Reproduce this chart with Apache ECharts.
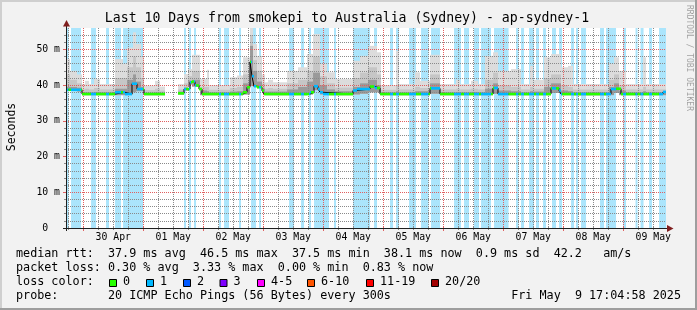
<!DOCTYPE html>
<html><head><meta charset="utf-8">
<script src="https://cdn.jsdelivr.net/npm/echarts@6/dist/echarts.min.js"></script>
<style>html,body{margin:0;padding:0;background:#f2f2f2}#c{width:697px;height:310px}</style>
</head><body><div id="c"></div>
<script>
// ---------- data (time unit: hours since 29 Apr 2025 00:00) ----------
const startHour = 17.083;   // Tue Apr 29 17:04:58
const endHour = 257.083;    // Fri May  9 17:04:58
const dayLabels = ['30 Apr','01 May','02 May','03 May','04 May','05 May','06 May','07 May','08 May','09 May'];
const dayLabelHours = [36,60,84,108,132,156,180,204,228,252];
const midnightHours = [24,48,72,96,120,144,168,192,216,240];
const sixHourHours = [18,30,36,42,54,60,66,78,84,90,102,108,114,126,132,138,150,156,162,174,180,186,198,204,210,222,228,234,246,252];
const yMajor = [0,10,20,30,40,50];
const yMinor = [2,4,6,8,12,14,16,18,22,24,26,28,32,34,36,38,42,44,46,48,52,54];

// intervals with 1/20 packet loss (loss background)
const lossIntervals = [
 [17.1,18.1],[19.1,23.1],[27.1,29.1],[33.1,34.3],[36.7,39.1],[39.9,47.9],
 [64.3,65.1],[66.3,67.1],[68.3,69.1],[78.3,79.1],[80.3,82.3],[86.3,87.1],
 [91.1,93.1],[94.3,95.1],[106.3,108.3],[111.1,112.3],[114.3,115.1],[116.3,122.3],
 [124.3,125.1],[131.9,138.7],[140.3,141.5],[146.7,147.9],[149.1,150.3],[154.3,157.1],
 [159.1,162.1],[163.1,166.7],[172.3,175.1],[176.3,178.3],[180.3,182.3],[183.1,187.1],
 [188.3,194.1],[197.1,198.1],[199.1,200.3],[202.3,204.3],[205.1,206.3],[207.9,209.1],
 [211.5,213.1],[214.3,215.5],[219.1,220.3],[221.1,221.9],[223.1,225.1],[230.7,232.3],
 [233.1,237.1],[239.9,241.1],[244.9,245.7],[246.9,248.1],[250.3,251.5],[254.3,257.1]
];

// median rtt (ms): [start hour, value held until next entry]; null = no data
const medianSteps = [
 [17.083,38.7],[23.48,37.5],[36.68,38.0],[40.68,37.5],[43.48,40.4],[45.48,38.9],[48.28,37.5],
 [56.68,null],[61.88,37.7],[64.28,38.9],[66.68,40.8],[67.48,41.0],[68.68,39.9],[70.28,38.9],
 [71.48,37.5],[87.88,38.0],[89.48,39.4],[90.68,46.5],[91.48,42.5],[92.28,39.7],[93.48,39.4],
 [95.48,38.5],[96.28,37.5],[114.68,38.0],[116.28,39.7],[117.88,38.9],[118.68,38.0],[119.88,37.5],
 [131.88,38.5],[133.48,38.9],[138.68,39.6],[140.68,39.2],[142.68,37.5],[162.68,39.1],[166.68,37.5],
 [187.88,39.2],[189.88,37.5],[211.08,39.1],[214.28,38.5],[215.08,37.5],[235.08,38.9],[237.08,39.0],
 [239.08,37.5],[255.88,38.1]
];

// smoke: [from, to, lowest ping, light top, mid top, dark top] (ms)
const smokeBands = [
 [17.1,18.7,38.4,47.3,43,39.5],[18.7,21.5,38.4,44,41.5,39.5],[21.5,23.5,38.2,43,40.5,39.3],
 [23.5,24.7,37.2,40.3,38.8,38],[24.7,26.3,37.2,41.2,39,38],[26.3,28.3,37.2,40.3,38.8,38],
 [28.3,30.7,37.2,41.7,39.2,38.1],[30.7,36.7,37.2,40.3,38.8,38],[36.7,39.9,37.2,47.3,42,39],
 [39.9,41.5,37.2,46,42,39],[41.5,43.9,37.4,50.5,45,41.5],[43.9,45.1,38,54.8,48,43],
 [45.1,47.1,38.3,51.5,45,41],[47.1,48.3,38.3,48,42,39.5],[48.3,52.7,37.2,39.9,38.6,37.9],
 [52.7,54.7,37.2,41.2,39,38],[54.7,56.7,37.2,39.6,38.5,37.9],
 [61.9,64.3,37.4,40.3,38.8,38.2],[64.3,65.9,38.5,43.1,40.5,39.3],[65.9,67.5,40.2,44.5,42.5,41.3],
 [67.5,70.7,39.6,48.5,44,41.5],[70.7,73.5,37.2,41.7,39.5,38.5],[73.5,74.3,37.2,44.3,39.5,38.3],
 [74.3,82.7,37.2,40,38.7,38],[82.7,85.5,37.2,42.2,39.2,38.2],[85.5,87.9,37.2,42.7,39.5,38.3],
 [87.9,90.7,37.4,47.8,43,40.5],[90.7,91.9,39.8,56,54,51],[91.9,93.5,39.5,51.5,47,44],
 [93.5,95.5,39.2,48.2,44,41],[95.5,96.7,37.8,43,40.5,39],[96.7,97.9,37.2,40.8,39,38.2],
 [97.9,99.9,37.2,41.5,39.2,38.2],[99.9,105.5,37.2,40.8,39,38.2],[105.5,109.9,37.2,44,40.5,38.8],
 [109.9,113.5,37.2,45,41.5,39.5],[113.5,115.9,37.4,48.7,44,41],[115.9,118.7,38.6,54.3,48,43.5],
 [118.7,121.5,37.4,46,42.5,40],[121.5,124.7,37.2,43.6,40.5,38.8],[124.7,131.9,37.2,41.7,39.3,38.3],
 [131.9,134.7,37.4,46.8,42,39.5],[134.7,137.9,37.6,48.2,43.5,40.5],[137.9,141.5,38,51,45,41.5],
 [141.5,143.1,38,49.2,43,40],[143.1,149.1,37.2,40,38.7,38],[149.1,150.3,37.2,49.6,40,38.3],
 [150.3,156.7,37.2,40.3,38.8,38],[156.7,158.7,37.2,43.6,39.5,38.3],[158.7,162.7,37.2,41.2,39.2,38.3],
 [162.7,166.7,37.6,48.5,43,40.5],[166.7,173.1,37.2,40.3,38.8,38],[173.1,174.7,37.2,41.5,39,38.1],
 [174.7,179.1,37.2,40.3,38.8,38],[179.1,181.9,37.2,41.2,39,38.1],[181.9,184.7,37.2,40.3,38.8,38],
 [184.7,187.9,37.2,48.2,41.5,39],[187.9,189.9,37.6,49.2,43.5,40.5],[189.9,195.1,37.2,44,40,38.5],
 [195.1,199.1,37.2,44.5,39.5,38.3],[199.1,202.7,37.2,40.3,38.8,38],[202.7,203.9,37.2,45.4,39.5,38.3],
 [203.9,208.3,37.2,41.5,39,38.2],[208.3,211.1,37.2,47.8,42,39.5],[211.1,215.1,37.8,48.7,43,40.5],
 [215.1,217.9,37.2,45,40,38.5],[217.9,219.9,37.2,45.4,39.5,38.3],[219.9,234.3,37.2,40.3,38.8,38],
 [234.3,236.3,37.2,46,41.5,39.5],[236.3,238.3,37.8,47.8,43,40.5],[238.3,241.1,37.2,44,40,38.5],
 [241.1,247.9,37.2,40.3,38.8,38],[247.9,249.1,37.2,47.8,39.5,38.3],[249.1,257.1,37.2,40.3,38.8,38]
];

const lossLabels = ['0','1','2','3','4-5','6-10','11-19','20/20'];
const lossColors = ['#26ff00','#00b8ff','#0059ff','#7e00ff','#ff00ff','#ff5500','#ff0000','#a10000'];
const statLines = [
 'median rtt:  37.9 ms avg  46.5 ms max  37.5 ms min  38.1 ms now  0.9 ms sd  42.2   am/s',
 'packet loss: 0.30 % avg  3.33 % max  0.00 % min  0.83 % now',
 'loss color:',
 'probe:       20 ICMP Echo Pings (56 Bytes) every 300s'
];
const stampText = 'Fri May  9 17:04:58 2025';
const titleText = 'Last 10 Days from smokepi to Australia (Sydney) - ap-sydney-1';
const yName = 'Seconds';
const yMax = 56;

// ---------- build ----------
const medSeg = [];
for (let i = 0; i < medianSteps.length; i++) {
  const t = medianSteps[i][0], v = medianSteps[i][1];
  const t1 = i + 1 < medianSteps.length ? medianSteps[i + 1][0] : endHour;
  if (v != null) medSeg.push([t, t1, v]);
}
const medLine = [];
medSeg.forEach((s, i) => {
  if (i > 0 && medSeg[i - 1][1] !== s[0]) medLine.push([medSeg[i - 1][1], null]);
  medLine.push([s[0], s[2]]); medLine.push([s[1], s[2]]);
});

const MONO = '"DejaVu Sans Mono", monospace';
const gridColor = '#8a8a8a';
const mgridColor = '#e06060';
const smokeColors = ['#dcdcdc', '#c6c6c6', '#9a9a9a'];
const lossBg = '#abe5fc';

function renderBg(params, api) {
  const a = api.coord([api.value(0), 0]), b = api.coord([api.value(1), 0]);
  const cs = params.coordSys;
  return { type: 'rect', shape: { x: a[0], y: cs.y, width: b[0] - a[0], height: cs.height }, style: { fill: lossBg } };
}
function renderSmoke(params, api) {
  const t0 = api.value(0), t1 = api.value(1), lo = api.value(2);
  const children = [3, 4, 5].map((d, k) => {
    const p0 = api.coord([t0, api.value(d)]), p1 = api.coord([t1, lo]);
    return { type: 'rect', shape: { x: p0[0], y: p0[1], width: p1[0] - p0[0], height: p1[1] - p0[1] }, style: { fill: smokeColors[k] } };
  });
  return { type: 'group', children };
}
function makeVGrid(col, tick) {
  return function (params, api) {
    const x = Math.floor(api.coord([api.value(0), 0])[0]) + 0.5;
    const cs = params.coordSys;
    return { type: 'group', children: [
      { type: 'line', shape: { x1: x, y1: cs.y, x2: x, y2: cs.y + cs.height }, style: { stroke: col, lineWidth: 1, lineDash: [1, 1] } },
      { type: 'line', shape: { x1: x, y1: cs.y + cs.height - 1, x2: x, y2: cs.y + cs.height + tick }, style: { stroke: col, lineWidth: 1 } }
    ] };
  };
}
function renderMedian(params, api) {
  const t0 = api.value(0), t1 = api.value(1), v = api.value(2);
  const cuts = [t0, t1];
  lossIntervals.forEach(([a, b]) => { if (a > t0 && a < t1) cuts.push(a); if (b > t0 && b < t1) cuts.push(b); });
  cuts.sort((p, q) => p - q);
  const children = [];
  for (let i = 0; i < cuts.length - 1; i++) {
    const a = cuts[i], b = cuts[i + 1], m = (a + b) / 2;
    const lost = lossIntervals.some(([p, q]) => m >= p && m < q);
    const pa = api.coord([a, v]), pb = api.coord([b, v]);
    children.push({ type: 'rect', shape: { x: pa[0], y: pa[1] - 1.3, width: pb[0] - pa[0], height: 2.6 }, style: { fill: lost ? lossColors[1] : lossColors[0] } });
  }
  return { type: 'group', children };
}

const graphic = [
  { type: 'rect', shape: { x: 0, y: 0, width: 697, height: 2 }, style: { fill: '#cfcfcf' }, z: 1 },
  { type: 'rect', shape: { x: 0, y: 0, width: 2, height: 310 }, style: { fill: '#cfcfcf' }, z: 1 },
  { type: 'rect', shape: { x: 0, y: 308, width: 697, height: 2 }, style: { fill: '#9e9e9e' }, z: 1 },
  { type: 'rect', shape: { x: 695, y: 0, width: 2, height: 310 }, style: { fill: '#9e9e9e' }, z: 1 },
  { type: 'text', x: 347, y: 19, style: { text: titleText, font: '13.2px ' + MONO, fill: '#000', align: 'center', verticalAlign: 'middle' }, z: 5 },
  { type: 'text', x: 12, y: 127, rotation: Math.PI / 2, style: { text: yName, font: '11.5px ' + MONO, fill: '#000', align: 'center', verticalAlign: 'middle' }, z: 5 },
  { type: 'text', x: 689, y: 5, rotation: -Math.PI / 2, style: { text: 'RRDTOOL / TOBI OETIKER', font: '8px ' + MONO, fill: 'rgba(0,0,0,0.35)', align: 'left', verticalAlign: 'middle' }, z: 5 },
  // axis lines and arrows
  { type: 'line', shape: { x1: 63, y1: 228.5, x2: 669, y2: 228.5 }, style: { stroke: '#1f1f1f', lineWidth: 1 }, z: 20 },
  { type: 'line', shape: { x1: 66.5, y1: 231, x2: 66.5, y2: 24 }, style: { stroke: '#1f1f1f', lineWidth: 1 }, z: 20 },
  { type: 'polygon', shape: { points: [[667, 225], [673.5, 228.5], [667, 232]] }, style: { fill: '#801f1f' }, z: 21 },
  { type: 'polygon', shape: { points: [[63, 26.5], [66.5, 20], [70, 26.5]] }, style: { fill: '#801f1f' }, z: 21 }
];
const lineYs = [254, 268, 282, 296];
statLines.forEach((s, i) => graphic.push({ type: 'text', x: 16, y: lineYs[i], style: { text: s, font: '11.75px ' + MONO, fill: '#000', align: 'left', verticalAlign: 'middle' }, z: 5 }));
graphic.push({ type: 'text', x: 681, y: lineYs[3], style: { text: stampText, font: '11.75px ' + MONO, fill: '#000', align: 'right', verticalAlign: 'middle' }, z: 5 });
const boxX = [109, 146, 183, 219.5, 257, 307, 366, 431];
lossLabels.forEach((lab, i) => {
  graphic.push({ type: 'rect', shape: { x: boxX[i] + 0.5, y: 279.5, width: 7, height: 7 }, style: { fill: lossColors[i], stroke: '#000', lineWidth: 1 }, z: 5 });
  graphic.push({ type: 'text', x: boxX[i] + 14, y: lineYs[2], style: { text: lab, font: '11.75px ' + MONO, fill: '#000', align: 'left', verticalAlign: 'middle' }, z: 5 });
});

const axisFont = { fontSize: 9.8, fontFamily: MONO, color: '#000' };
const option = {
  animation: false,
  backgroundColor: '#f2f2f2',
  grid: { left: 66, right: 31, top: 28, bottom: 82, containLabel: false, show: true, backgroundColor: '#ffffff', borderWidth: 0 },
  xAxis: [
    { type: 'value', position: 'bottom', offset: 0, min: startHour, max: endHour, z: 3, axisLine: { show: false }, axisTick: { show: false }, splitLine: { show: false },
      axisLabel: Object.assign({ customValues: dayLabelHours, margin: 4, formatter: v => dayLabels[dayLabelHours.indexOf(v)] || '' }, axisFont) }
  ],
  yAxis: [
    { type: 'value', min: 0, max: yMax, position: 'left', offset: 0, z: 3, axisLine: { show: false }, axisLabel: { show: false },
      axisTick: { show: true, customValues: yMinor, length: 2, lineStyle: { color: gridColor } },
      splitLine: { show: true, lineStyle: { color: gridColor, width: 1, type: [1, 1] } } },
    { type: 'value', min: 0, max: yMax, position: 'left', offset: 0, z: 3, axisLine: { show: false },
      axisTick: { show: true, customValues: yMajor, length: 3, lineStyle: { color: mgridColor } },
      axisLabel: Object.assign({ customValues: yMajor, margin: 6, formatter: v => v === 0 ? '0  ' : v + ' m' }, axisFont),
      splitLine: { show: true, lineStyle: { color: mgridColor, width: 1, type: [1, 1] } } }
  ],
  series: [
    { type: 'custom', name: 'loss', z: 1, clip: true, renderItem: renderBg, encode: { x: [0, 1], y: 2 }, data: lossIntervals.map(d => [d[0], d[1], 0]) },
    { type: 'custom', name: 'smoke', z: 2, clip: true, renderItem: renderSmoke, encode: { x: [0, 1], y: [2, 3] }, data: smokeBands },
    { type: 'custom', name: 'grid6h', z: 3, clip: false, silent: true, renderItem: makeVGrid(gridColor, 2), encode: { x: 0, y: 1 }, data: sixHourHours.map(h => [h, 0]) },
    { type: 'custom', name: 'grid24h', z: 3, clip: false, silent: true, renderItem: makeVGrid(mgridColor, 3), encode: { x: 0, y: 1 }, data: midnightHours.map(h => [h, 0]) },
    { type: 'line', name: 'median', z: 4, symbol: 'none', connectNulls: false, lineStyle: { color: '#000', width: 1 }, data: medLine },
    { type: 'custom', name: 'medianLoss', z: 5, clip: true, renderItem: renderMedian, encode: { x: [0, 1], y: 2 }, data: medSeg }
  ],
  graphic
};
const chart = echarts.init(document.getElementById('c'), null, { renderer: 'canvas' });
chart.setOption(option);
</script></body></html>
